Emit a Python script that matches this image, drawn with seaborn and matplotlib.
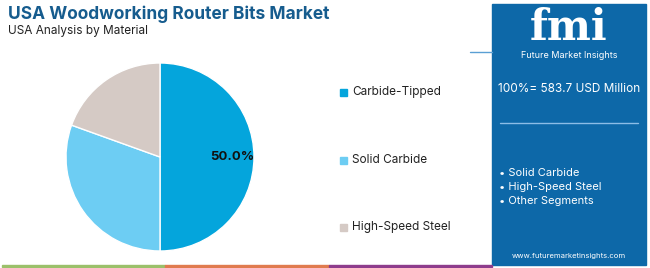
import matplotlib
matplotlib.use("Agg")
import matplotlib.pyplot as plt
import matplotlib.patches as mpatches
import seaborn as sns

# data
materials = ["Carbide-Tipped", "Solid Carbide", "High-Speed Steel"]
shares = [50.0, 30.5, 19.5]
colors = ["#04a5dc", "#6dcdf3", "#d5cac5"]
panel_items = ["Solid Carbide", "High-Speed Steel", "Other Segments"]
total_label = "100%= 583.7 USD Million"
stripe_colors = ["#9bc06a", "#e07b4f", "#8e3c8c"]

sns.set_theme(style="white")
plt.rcParams["font.family"] = ["Inter", "DejaVu Sans"]

W, H = 650, 268
fig = plt.figure(figsize=(W / 100, H / 100), dpi=100)

def fx(x):
    return x / W

def fy(y):
    return 1 - y / H

# title
fig.text(fx(8), fy(14), "USA Woodworking Router Bits Market", fontsize=12.5,
         fontweight="bold", color="#165c8e", va="center", ha="left")
fig.text(fx(8), fy(31), "USA Analysis by Material", fontsize=8.5,
         color="#222222", va="center", ha="left")

# pie
ax = fig.add_axes([fx(66), fy(251), 188 / W, 188 / H])
wedges, _, autotexts = ax.pie(
    shares, colors=colors, startangle=90, counterclock=False,
    autopct=lambda p: f"{p:.1f}%" if p >= 40 else "", pctdistance=0.77,
    textprops=dict(fontsize=9.5, fontweight="bold", color="#111111"))
ax.set_xlim(-1, 1)
ax.set_ylim(-1, 1)
ax.set_aspect("equal")
ax.axis("off")

# legend
leg_y = [92, 160, 227]
for name, c, y in zip(materials, colors, leg_y):
    fig.patches.append(mpatches.Rectangle((fx(340), fy(y + 3.5)), 7 / W, 7 / H,
                                          transform=fig.transFigure, color=c))
    fig.text(fx(352), fy(y), name, fontsize=8.5, color="#222222",
             va="center", ha="left")

# side panel
fig.patches.append(mpatches.Rectangle((fx(492), fy(265)), 154 / W, 261 / H,
                                      transform=fig.transFigure, color="#0d68a8"))
fig.lines.append(plt.Line2D([fx(470), fx(492)], [fy(52), fy(52)],
                            transform=fig.transFigure, color="#5a9fd4", lw=1))
fig.text(fx(569), fy(28), "fmi", fontsize=30, fontweight="bold", color="white",
         va="center", ha="center", family=["DejaVu Serif"])
fig.text(fx(569), fy(55), "Future Market Insights", fontsize=6.5, color="white",
         va="center", ha="center")
fig.text(fx(569), fy(89), total_label, fontsize=8.5, color="white",
         va="center", ha="center")
fig.lines.append(plt.Line2D([fx(500), fx(638)], [fy(123), fy(123)],
                            transform=fig.transFigure, color="#8cbde6", lw=1))
for i, item in enumerate(panel_items):
    fig.text(fx(499), fy(173 + i * 14), "• " + item, fontsize=8, color="white",
             va="center", ha="left")
fig.text(fx(569), fy(256), "www.futuremarketinsights.com", fontsize=5.5,
         color="white", va="center", ha="center")

# bottom stripes
for i, c in enumerate(stripe_colors):
    fig.patches.append(mpatches.Rectangle((fx(2 + i * 163.3), fy(267)), 163.3 / W, 2.5 / H,
                                          transform=fig.transFigure, color=c))

fig.savefig("out.png", dpi=100)
